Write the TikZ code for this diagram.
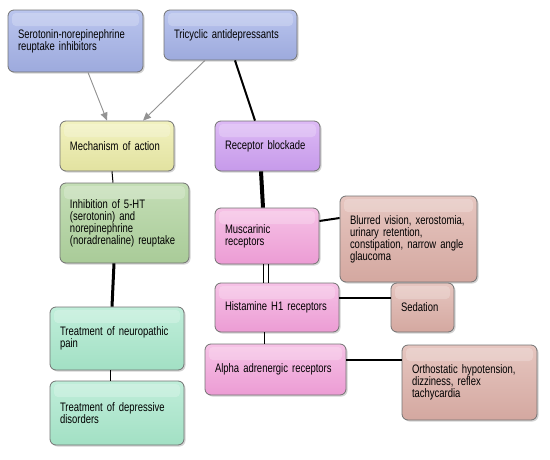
\documentclass[tikz,border=0pt]{standalone}
\usepackage{fontspec}
\setmainfont{Liberation Sans}[FakeStretch=0.77]
\usetikzlibrary{shapes,backgrounds,calc,shadows,arrows.meta}

\definecolor{bluetop}{HTML}{BAC5EE}
\definecolor{bluebot}{HTML}{9DAADD}
\definecolor{yeltop}{HTML}{F2F2C0}
\definecolor{yelbot}{HTML}{E2E2A0}
\definecolor{purtop}{HTML}{DDBAF5}
\definecolor{purbot}{HTML}{C69AEA}
\definecolor{grntop}{HTML}{C4DEB6}
\definecolor{grnbot}{HTML}{A9CB98}
\definecolor{pnktop}{HTML}{F6C2E6}
\definecolor{pnkbot}{HTML}{EC9CD4}
\definecolor{brntop}{HTML}{E6C6C0}
\definecolor{brnbot}{HTML}{D4A8A0}
\definecolor{tealtop}{HTML}{C0EEDA}
\definecolor{tealbot}{HTML}{A2E0C4}

\tikzset{
  diagbox/.style={draw=gray!90!black, line width=0.8pt, rounded corners=6pt,
    align=left, inner xsep=10pt, inner ysep=0pt, anchor=center,
    font=\fontsize{12.3}{12}\selectfont,
    drop shadow={shadow xshift=1.5pt, shadow yshift=-1.5pt, opacity=0.35},
    path picture={\fill[white,opacity=0.22,rounded corners=4pt]
      ([xshift=4pt,yshift=-3pt]path picture bounding box.north west) rectangle
      ([xshift=-4pt,yshift=-16pt]path picture bounding box.north east);}},
  boxsize/.style 2 args={minimum width=#1pt, minimum height=#2pt, text width=#1pt-20pt},
  bluebox/.style={diagbox, top color=bluetop, bottom color=bluebot},
  yelbox/.style={diagbox, top color=yeltop, bottom color=yelbot},
  purbox/.style={diagbox, top color=purtop, bottom color=purbot},
  grnbox/.style={diagbox, top color=grntop, bottom color=grnbot},
  pnkbox/.style={diagbox, top color=pnktop, bottom color=pnkbot},
  brnbox/.style={diagbox, top color=brntop, bottom color=brnbot},
  tealbox/.style={diagbox, top color=tealtop, bottom color=tealbot},
  grayarrow/.style={->, >={Triangle[length=8pt,width=7pt]}, draw=gray!85, fill=gray!85, line width=0.9pt},
}

\begin{document}
\begin{tikzpicture}[x=1pt,y=-1pt]
\useasboundingbox (0,0) rectangle (550,459);

% top row
\node[bluebox, boxsize={135}{62}] (snri) at (75.5,41) {Serotonin-norepinephrine\\reuptake inhibitors};
\node[bluebox, boxsize={133}{50}] (tca) at (230.5,35) {Tricyclic antidepressants};

% left column
\node[yelbox, boxsize={114}{50}] (mech) at (117,146) {Mechanism of action};
\node[grnbox, boxsize={129}{80}] (inhib) at (124.5,223) {Inhibition of 5-HT\\(serotonin) and\\norepinephrine\\(noradrenaline) reuptake};
\node[tealbox, boxsize={134}{63}] (neuro) at (117,338.5) {Treatment of neuropathic\\pain};
\node[tealbox, boxsize={134}{64}] (depr) at (117,413) {Treatment of depressive\\disorders};

% right column
\node[purbox, boxsize={105}{50}] (rblock) at (267.5,146) {Receptor blockade};
\node[pnkbox, boxsize={104}{56}] (musc) at (267,236) {Muscarinic\\receptors};
\node[pnkbox, boxsize={124}{49}] (hist) at (277,307.5) {Histamine H1 receptors};
\node[pnkbox, boxsize={141}{51}] (alpha) at (275.5,369.5) {Alpha adrenergic receptors};

% side effects
\node[brnbox, boxsize={137}{86}] (blur) at (408.5,239) {Blurred vision, xerostomia,\\urinary retention,\\constipation, narrow angle\\glaucoma};
\node[brnbox, boxsize={63}{49}] (sed) at (422.5,307.5) {Sedation};
\node[brnbox, boxsize={135}{75}] (ortho) at (469.5,382.5) {Orthostatic hypotension,\\dizziness, reflex\\tachycardia\\[4pt]};

% connectors
\draw[grayarrow] ([xshift=12.5pt]snri.south) -- ([xshift=-10pt]mech.north); % snri - mechanism
\draw[grayarrow] ([xshift=-25.5pt]tca.south) -- ([xshift=26pt]mech.north); % tricyclic - mechanism
\draw[line width=2pt] ([xshift=4.5pt]tca.south) -- ([xshift=-12.5pt]rblock.north); % tricyclic - blockade
\draw[line width=1pt] ([xshift=-5pt]mech.south) -- ([xshift=-11.5pt]inhib.north); % mechanism - inhibition
\draw[line width=3pt] ([xshift=-10.5pt]inhib.south) -- ([xshift=-5pt]neuro.north); % inhibition - neuropathic
\draw[line width=1pt] ([xshift=-7pt]neuro.south) -- ([xshift=-7pt]depr.north); % neuropathic - depressive
\draw[line width=4pt] ([xshift=-6.5pt]rblock.south) -- ([xshift=-4pt]musc.north); % blockade - muscarinic
\draw[line width=1pt] ([xshift=-4pt]musc.south) -- ([xshift=-14pt]hist.north); % muscarinic - histamine
\draw[line width=1pt] ([xshift=1pt]musc.south) -- ([xshift=-9pt]hist.north); % muscarinic - histamine
\draw[line width=1pt] ([xshift=-13pt]hist.south) -- ([xshift=-11.5pt]alpha.north); % histamine - alpha
\draw[line width=2pt] ([yshift=15pt]musc.east) -- ([yshift=21pt]blur.west); % muscarinic - blurred
\draw[line width=1.5pt] ([yshift=9.5pt]hist.east) -- ([yshift=9.5pt]sed.west); % histamine - sedation
\draw[line width=2pt] ([yshift=9.5pt]alpha.east) -- ([yshift=22.5pt]ortho.west); % alpha - orthostatic

\end{tikzpicture}
\end{document}
